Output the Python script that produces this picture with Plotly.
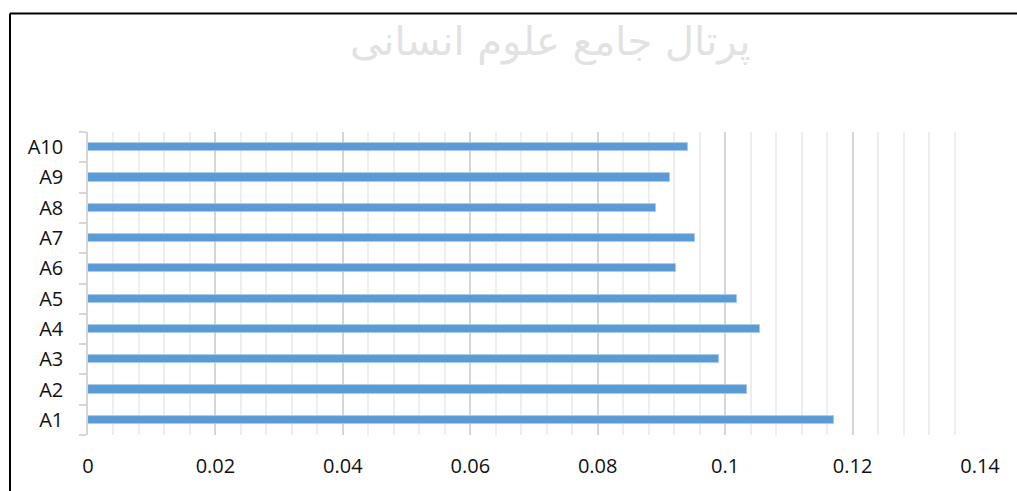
import plotly.graph_objects as go

categories = ["A1", "A2", "A3", "A4", "A5", "A6", "A7", "A8", "A9", "A10"]
values = [0.1171, 0.1035, 0.0991, 0.1055, 0.1019, 0.0923, 0.0953, 0.0892, 0.0913, 0.0942]
x_ticks = [0, 0.02, 0.04, 0.06, 0.08, 0.1, 0.12, 0.14]
watermark = "پرتال جامع علوم انسانی"

W, H = 1017, 491
L, R, T, B = 88, 37, 132, 56
pw, ph = W - L - R, H - T - B

def px(x):
    return (x - L) / pw

def py(y):
    return 1 - (y - T) / ph

fig = go.Figure(
    go.Bar(
        x=values,
        y=categories,
        orientation="h",
        width=0.27,
        marker=dict(color="#5B9BD5", line=dict(color="#A9C9EC", width=0.8)),
    )
)

fig.update_layout(
    width=W,
    height=H,
    margin=dict(l=L, r=R, t=T, b=B),
    plot_bgcolor="white",
    paper_bgcolor="white",
    showlegend=False,
    font=dict(family="Open Sans", size=20, color="#111111"),
    bargap=0,
)

fig.update_xaxes(
    range=[0, 0.14],
    tickvals=x_ticks,
    showgrid=True,
    gridcolor="#D6D6D6",
    gridwidth=1.5,
    minor=dict(dtick=0.004, tick0=0, showgrid=True, gridcolor="#EEEEEE", gridwidth=1.5),
    zeroline=False,
    showline=False,
    ticks="",
    ticklabelstandoff=17,
    fixedrange=True,
)

fig.update_yaxes(
    type="category",
    categoryorder="array",
    categoryarray=categories,
    showgrid=False,
    showline=True,
    linecolor="#D6D6D6",
    linewidth=1.5,
    ticks="outside",
    tickson="boundaries",
    ticklen=7,
    tickcolor="#D6D6D6",
    tickwidth=1.5,
    ticklabelstandoff=19,
    zeroline=False,
    fixedrange=True,
)

# watermark (faint)
fig.add_annotation(
    text=watermark,
    xref="paper",
    yref="paper",
    x=px(550),
    y=py(42),
    showarrow=False,
    font=dict(family="DejaVu Sans", size=40, color="#E2E2E2"),
    xanchor="center",
    yanchor="middle",
)

# chart frame (top and left borders)
fig.add_shape(type="line", xref="paper", yref="paper",
              x0=px(10), x1=px(1020), y0=py(13.5), y1=py(13.5),
              line=dict(color="#000000", width=2))
fig.add_shape(type="line", xref="paper", yref="paper",
              x0=px(10), x1=px(10), y0=py(13.5), y1=py(495),
              line=dict(color="#000000", width=2))

fig.write_html("out.html")
